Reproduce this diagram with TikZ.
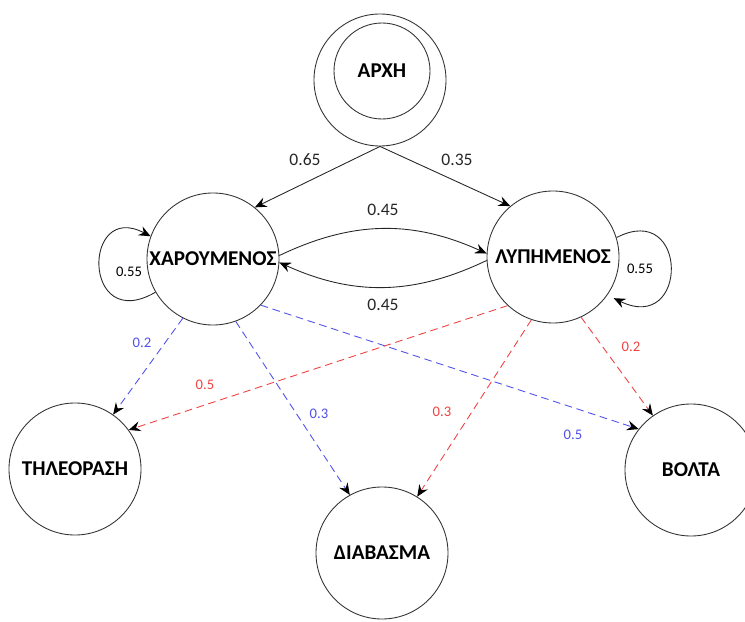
\documentclass[tikz,border=0pt]{standalone}
\usepackage{fontspec}
\setmainfont{Carlito}
\usetikzlibrary{arrows.meta}
\definecolor{hblue}{RGB}{80,80,235}
\definecolor{sred}{RGB}{240,65,65}
\tikzset{every picture/.style={x=0.03cm,y=0.03cm,>={Stealth[length=10pt,width=8.5pt,inset=3.5pt,color=black]}},
  mood/.style={circle,draw=black!80,line width=0.75pt,minimum size=3.96cm,inner sep=0pt,font=\fontsize{18}{20}\selectfont\bfseries},
  prob/.style={font=\fontsize{15}{17}\selectfont,text=black!85},
  lowprob/.style={font=\fontsize{12.5}{14}\selectfont},
  link/.style={->,draw=black!85,line width=0.75pt},
  hlink/.style={->,draw=hblue,line width=0.75pt,dash pattern=on 6.5pt off 4pt},
  slink/.style={->,draw=sred,line width=0.75pt,dash pattern=on 6.5pt off 4pt}}

\begin{document}
\begin{tikzpicture}
            \useasboundingbox (0,0) rectangle (745,-622);
            \node[mood] (start) at (380,-80) {};
            \node[mood,minimum size=2.88cm] (startin) at (382,-71) {ΑΡΧΗ};
            \node[mood] (happy) at (213,-259) {ΧΑΡΟΥΜΕΝΟΣ};
            \node[mood] (sad) at (553,-257) {ΛΥΠΗΜΕΝΟΣ};
            \node[mood] (tv) at (75,-469) {ΤΗΛΕΟΡΑΣΗ};
            \node[mood] (read) at (382,-553) {ΔΙΑΒΑΣΜΑ};
            \node[mood] (walk) at (691,-470) {ΒΟΛΤΑ};

            \draw[link] (start.south) -- (happy.51);
            \draw[link] (start.south) -- (sad.130);
            \draw[link] (happy.3) to[bend left=25] (sad.177);
            \draw[link] (sad.183) to[bend left=25] (happy.357);
            \draw[link] (happy.210) .. controls (82,-335) and (82,-200) .. (happy.160);
            \draw[link,shorten >=6pt] (sad.17) .. controls (689,-200) and (689,-335) .. (sad.325);

            \foreach \from/\to/\at in {243/tv/55, 290/read/119, 316/walk/142}
              \draw[hlink] (happy.\from) -- (\to.\at);
            \foreach \from/\to/\at in {227/tv/36, 251/read/58, 295/walk/125}
              \draw[slink] (sad.\from) -- (\to.\at);

            \node[prob] (p1) at (305,-160) {0.65};
            \node[prob] (p2) at (457,-160) {0.35};
            \node[prob] (p3) at (383,-210) {0.45};
            \node[prob] (p4) at (383,-305) {0.45};
            \node[lowprob] (p5) at (129,-272) {0.55};
            \node[lowprob] (p6) at (640,-269) {0.55};
            \node[lowprob,text=hblue] (h1) at (142,-343) {0.2};
            \node[lowprob,text=hblue] (h2) at (319,-414) {0.3};
            \node[lowprob,text=hblue] (h3) at (573,-435) {0.5};
            \node[lowprob,text=sred] (s1) at (205,-385) {0.5};
            \node[lowprob,text=sred] (s2) at (442,-412) {0.3};
            \node[lowprob,text=sred] (s3) at (631,-347) {0.2};
        \end{tikzpicture}
\end{document}
